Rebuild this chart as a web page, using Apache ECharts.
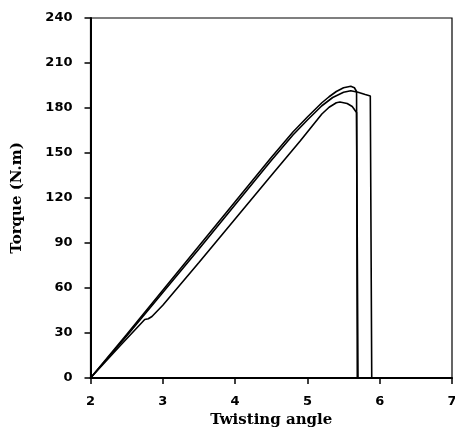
<!DOCTYPE html>
<html>
<head>
<meta charset="utf-8">
<script src="https://cdn.jsdelivr.net/npm/echarts@6/dist/echarts.min.js"></script>
<style>html,body{margin:0;padding:0;background:#fff}#c{width:455px;height:429px}</style>
</head>
<body>
<div id="c"></div>
<script>
var xTicks = [2, 3, 4, 5, 6, 7];
var yTicks = [0, 30, 60, 90, 120, 150, 180, 210, 240];
var curveAx = [2, 2.5, 3, 3.5, 4, 4.5, 4.8, 5, 5.2, 5.3, 5.4, 5.5, 5.6, 5.65, 5.68, 5.69, 5.75];
var curveAy = [0, 29, 58.5, 88, 117.5, 147, 164, 174, 183.5, 187.5, 191, 193.5, 194.5, 193.5, 191, 0, 0];
var curveBx = [2, 2.5, 3, 3.5, 4, 4.5, 4.8, 5, 5.2, 5.35, 5.5, 5.6, 5.7, 5.8, 5.87, 5.89, 5.93];
var curveBy = [0, 28, 57, 86, 115.5, 145, 162, 172, 181.5, 187, 190.5, 191.5, 190.5, 189, 188, 0, 0];
var curveCx = [2, 2.4, 2.75, 2.8, 2.85, 3, 3.5, 4, 4.5, 4.9, 5.05, 5.2, 5.3, 5.4, 5.45, 5.55, 5.62, 5.68, 5.7, 5.76];
var curveCy = [0, 21, 39, 39.5, 41, 48.5, 77, 106, 135, 158, 167, 176, 180.5, 183.5, 184, 183, 181, 177, 0, 0];

function pairs(xs, ys) { return xs.map(function (x, i) { return [x, ys[i]]; }); }

var chart = echarts.init(document.getElementById('c'), null, {renderer: 'canvas'});
var lineStyle = {color: '#000', width: 1.6};
function mk(xs, ys) {
  return {type: 'line', data: pairs(xs, ys), symbol: 'none', lineStyle: lineStyle, animation: false, clip: true};
}
var titleFont = {fontFamily: 'DejaVu Serif', fontWeight: 'bold', fontSize: 15, color: '#000'};
var tickFont = {fontFamily: 'DejaVu Sans', fontWeight: 'bold', fontSize: 13, color: '#000'};
chart.setOption({
  animation: false,
  grid: {left: 90.5, right: 3, top: 18, bottom: 51, show: true, borderColor: '#000', borderWidth: 1.2,
         containLabel: false, outerBoundsMode: 'none'},
  xAxis: {
    type: 'value', min: xTicks[0], max: xTicks[xTicks.length - 1], interval: 1,
    name: 'Twisting angle', nameLocation: 'middle', nameGap: 33,
    nameTextStyle: titleFont,
    axisLine: {show: true, lineStyle: {color: '#000', width: 2}},
    axisTick: {show: true, inside: false, length: 6, lineStyle: {color: '#000', width: 1.5}},
    axisLabel: Object.assign({margin: 17}, tickFont),
    splitLine: {show: false}
  },
  yAxis: {
    type: 'value', min: yTicks[0], max: yTicks[yTicks.length - 1], interval: 30,
    name: 'Torque (N.m)', nameLocation: 'middle', nameGap: 66,
    nameTextStyle: titleFont,
    axisLine: {show: true, lineStyle: {color: '#000', width: 2}},
    axisTick: {show: true, inside: false, length: 6, lineStyle: {color: '#000', width: 1.5}},
    axisLabel: Object.assign({margin: 18}, tickFont),
    splitLine: {show: false}
  },
  series: [mk(curveAx, curveAy), mk(curveBx, curveBy), mk(curveCx, curveCy)]
});
</script>
</body>
</html>
